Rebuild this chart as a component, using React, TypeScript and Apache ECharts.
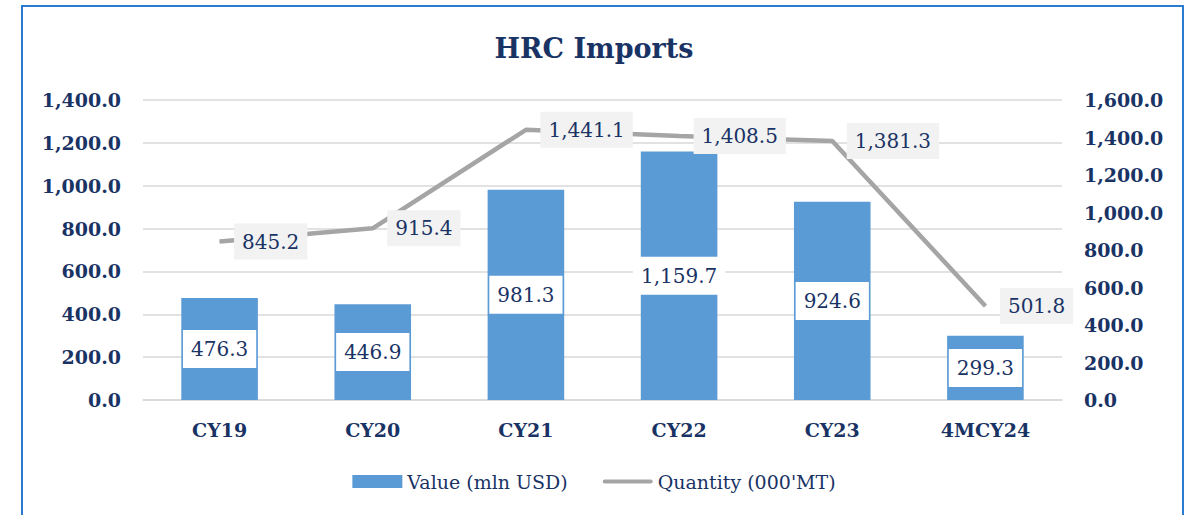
import React, { useEffect, useRef } from "react";
import * as echarts from "echarts";

const categories = ["CY19", "CY20", "CY21", "CY22", "CY23", "4MCY24"];
const valueMlnUsd = [476.3, 446.9, 981.3, 1159.7, 924.6, 299.3];
const quantityKmt = [845.2, 915.4, 1441.1, 1408.5, 1381.3, 501.8];

const NAVY = "#1a3365";
const FONT = "'DejaVu Serif', 'Liberation Serif', serif";

const fmt = (v: number) =>
  Number(v).toLocaleString("en-US", { minimumFractionDigits: 1, maximumFractionDigits: 1 });

export default function App() {
  const ref = useRef<HTMLDivElement>(null);
  useEffect(() => {
    document.body.style.margin = "0";
    const chart = echarts.init(ref.current!, null, { renderer: "svg" });
    chart.setOption({
      animation: false,
      backgroundColor: "#ffffff",
      textStyle: { fontFamily: FONT },
      title: {
        text: "HRC Imports",
        left: "center",
        top: 30,
        textStyle: { fontFamily: FONT, fontSize: 27, fontWeight: "bold", color: NAVY },
      },
      graphic: [
        {
          type: "rect",
          shape: { x: 22, y: 6, width: 1161, height: 600 },
          style: { fill: "none", stroke: "#2b7bd0", lineWidth: 2 },
          silent: true,
        },
      ],
      legend: {
        bottom: 19,
        left: "center",
        itemWidth: 50,
        itemHeight: 13,
        itemGap: 35,
        textStyle: { fontFamily: FONT, fontSize: 19, color: NAVY },
        data: [
          { name: "Value (mln USD)", icon: "rect" },
          {
            name: "Quantity (000'MT)",
            icon: "path://M2,0 L48,0 A2,2 0 0 1 48,4 L2,4 A2,2 0 0 1 2,0 Z",
            itemStyle: { color: "#a5a5a5" },
          },
        ],
      },
      grid: { left: 143, right: 126, top: 100, bottom: 115 },
      xAxis: {
        type: "category",
        data: categories,
        axisTick: { show: false },
        axisLine: { lineStyle: { color: "#d9d9d9", width: 1.5 } },
        axisLabel: { fontFamily: FONT, fontSize: 19, fontWeight: "bold", color: NAVY, margin: 20 },
      },
      yAxis: [
        {
          type: "value",
          min: 0,
          max: 1400,
          interval: 200,
          axisLine: { show: false },
          axisTick: { show: false },
          splitLine: { lineStyle: { color: "#d9d9d9", width: 1.5 } },
          axisLabel: {
            fontFamily: FONT,
            fontSize: 19,
            fontWeight: "bold",
            color: NAVY,
            margin: 22,
            formatter: (v: number) => fmt(v),
          },
        },
        {
          type: "value",
          min: 0,
          max: 1600,
          interval: 200,
          axisLine: { show: false },
          axisTick: { show: false },
          splitLine: { show: false },
          axisLabel: {
            fontFamily: FONT,
            fontSize: 19,
            fontWeight: "bold",
            color: NAVY,
            margin: 22,
            formatter: (v: number) => fmt(v),
          },
        },
      ],
      series: [
        {
          name: "Value (mln USD)",
          type: "bar",
          data: valueMlnUsd,
          barWidth: "50%",
          itemStyle: { color: "#5b9bd5" },
          label: {
            show: true,
            position: "inside",
            formatter: (p: any) => fmt(p.value),
            fontFamily: FONT,
            fontSize: 20,
            color: NAVY,
            backgroundColor: "#ffffff",
            padding: [9, 8],
          },
        },
        {
          name: "Quantity (000'MT)",
          type: "line",
          yAxisIndex: 1,
          data: quantityKmt,
          symbol: "circle",
          symbolSize: 1,
          showSymbol: true,
          lineStyle: { color: "#a5a5a5", width: 4.5 },
          itemStyle: { color: "#a5a5a5" },
          label: {
            show: true,
            position: "right",
            distance: 14,
            formatter: (p: any) => fmt(p.value),
            fontFamily: FONT,
            fontSize: 20,
            color: NAVY,
            backgroundColor: "#f2f2f2",
            padding: [8, 8],
          },
          z: 5,
        },
      ],
    });
    return () => chart.dispose();
  }, []);
  return <div ref={ref} style={{ width: 1188, height: 515 }} />;
}
